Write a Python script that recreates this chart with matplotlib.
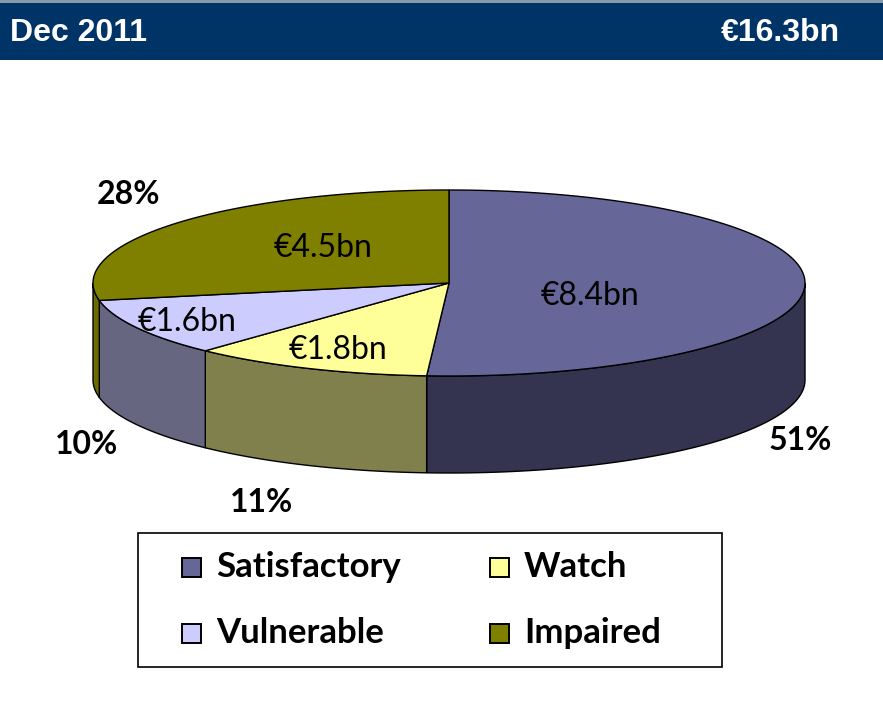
import numpy as np
import matplotlib
matplotlib.use("Agg")
from matplotlib import pyplot as plt
from matplotlib.patches import Polygon, Rectangle

# data
categories = ["Satisfactory", "Watch", "Vulnerable", "Impaired"]
values = [8.4, 1.8, 1.6, 4.5]          # EUR bn
shares = [51, 11, 10, 28]              # percent
top_colors = ["#666699", "#FFFF99", "#CCCCFF", "#808000"]
side_colors = ["#343450", "#80804D", "#666680", "#6B6B00"]
title_left = "Dec 2011"
title_right = "€16.3bn"

# geometry (pixel space)
W, H = 883, 724
cx, cy = 449, 283
rx, ry = 356, 93
depth = 97

fig = plt.figure(figsize=(W / 100, H / 100), dpi=100)
ax = fig.add_axes([0, 0, 1, 1])
ax.set_xlim(0, W)
ax.set_ylim(H, 0)
ax.axis("off")

# header band
ax.add_patch(Rectangle((0, 0), W, 3, color="#8899AA", lw=0))
ax.add_patch(Rectangle((0, 3), W, 57, color="#003366", lw=0))
ax.text(10, 33, title_left, color="white", fontsize=23, fontweight="bold",
        family="Liberation Sans", va="center", ha="left")
ax.text(840, 33, title_right, color="white", fontsize=23, fontweight="bold",
        family="Liberation Sans", va="center", ha="right")


def pt(theta_deg, dy=0):
    t = np.radians(theta_deg)
    return cx + rx * np.sin(t), cy - ry * np.cos(t) + dy


bounds = np.concatenate([[0], np.cumsum(shares) / sum(shares) * 360])

# side faces (only front half, 90..270 deg)
for i in range(len(shares)):
    a0, a1 = max(bounds[i], 90), min(bounds[i + 1], 270)
    if a1 <= a0:
        continue
    th = np.linspace(a0, a1, 80)
    top = [pt(t) for t in th]
    bot = [pt(t, depth) for t in th[::-1]]
    ax.add_patch(Polygon(top + bot, closed=True, facecolor=side_colors[i],
                         edgecolor="black", lw=1))

# top faces
for i in range(len(shares)):
    th = np.linspace(bounds[i], bounds[i + 1], 120)
    poly = [(cx, cy)] + [pt(t) for t in th]
    ax.add_patch(Polygon(poly, closed=True, facecolor=top_colors[i],
                         edgecolor="black", lw=1))

# value labels
val_pos = [(590, 296), (338, 350), (187, 322), (323, 248)]
for v, (x, y) in zip(values, val_pos):
    ax.text(x, y, "€%.1fbn" % v, fontsize=23, family="Lato",
            ha="center", va="center", color="black")

# percentage labels
pct_pos = [(800, 440), (262, 502), (87, 445), (128, 194)]
for s, (x, y) in zip(shares, pct_pos):
    ax.text(x, y, "%d%%" % s, fontsize=23, family="Lato", fontweight="bold",
            ha="center", va="center", color="black")

# legend
ax.add_patch(Rectangle((138, 533), 584, 134, facecolor="white",
                       edgecolor="black", lw=1.2))
leg_pos = [(182, 567), (490, 567), (182, 633), (490, 633)]
for (x, y), name, c in zip(leg_pos, categories, top_colors):
    ax.add_patch(Rectangle((x, y - 9), 19, 19, facecolor=c,
                           edgecolor="black", lw=1.4))
    ax.text(x + 34, y, name, fontsize=25, family="Lato", fontweight="bold",
            ha="left", va="center", color="black")

plt.savefig("out.png", dpi=100)
